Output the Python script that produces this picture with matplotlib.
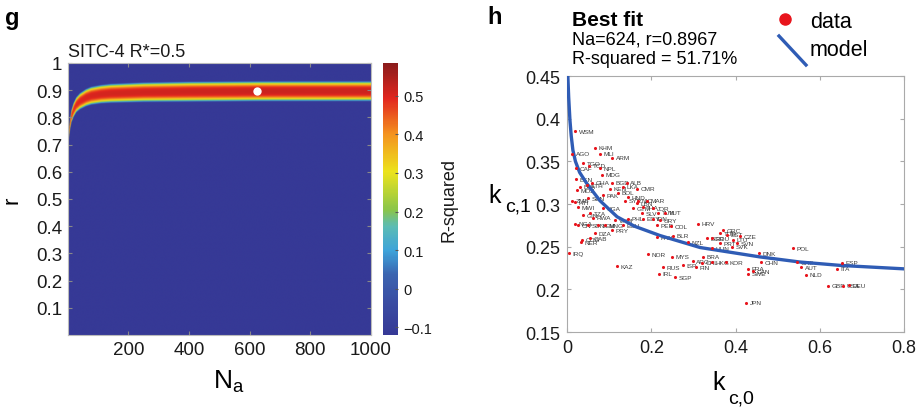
import numpy as np
import matplotlib
matplotlib.use("Agg")
import matplotlib.pyplot as plt
from matplotlib.colors import LinearSegmentedColormap
from matplotlib.lines import Line2D
from matplotlib.ticker import FuncFormatter

plt.rcParams['font.family'] = ['Liberation Sans', 'DejaVu Sans']
plt.rcParams['mathtext.fontset'] = 'custom'
plt.rcParams['mathtext.rm'] = 'Liberation Sans'
plt.rcParams['mathtext.it'] = 'Liberation Sans:italic'
plt.rcParams['mathtext.bf'] = 'Liberation Sans:bold'

# ---------------- panel g: R-squared landscape ----------------
na_ridge = [1, 3, 5, 8, 12, 19, 28, 40, 60, 77, 110, 142, 250, 400, 624, 1000]
r_ridge = [0.705, 0.735, 0.755, 0.78, 0.805, 0.828, 0.847, 0.86, 0.873, 0.88,
           0.886, 0.889, 0.893, 0.895, 0.8967, 0.897]
hw_ridge = [0.012, 0.016, 0.019, 0.022, 0.025, 0.028, 0.030, 0.032, 0.034, 0.035,
            0.036, 0.037, 0.038, 0.039, 0.039, 0.039]
pk_ridge = [0.35, 0.40, 0.43, 0.45, 0.47, 0.48, 0.49, 0.495, 0.50, 0.503,
            0.506, 0.508, 0.511, 0.514, 0.517, 0.515]
r2_min, r2_max = -0.12, 0.585
best_na, best_r = 624, 0.8967

g_xticks = [200, 400, 600, 800, 1000]
g_yticks = [0.1, 0.2, 0.3, 0.4, 0.5, 0.6, 0.7, 0.8, 0.9, 1.0]
cb_ticks = [-0.1, 0, 0.1, 0.2, 0.3, 0.4, 0.5]

# ---------------- panel h: best fit ----------------
codes = ["WSM", "AGO", "KHM", "MLI", "TGO", "TCD", "CAF", "ARM", "NPL", "MDG",
         "BEN", "GHA", "BGD", "ALB", "MOZ", "ETH", "KEN", "LKA", "CMR", "HTI",
         "SEN", "PAK", "BOL", "HND", "NIC", "MAR", "MWI", "TZA", "UGA", "GTM",
         "SLV", "JOR", "TUN", "VUT", "ZMB", "BFA", "GIN", "RWA", "VNM", "PHL",
         "EGY", "IDN", "NGA", "CIV", "SDN", "YEM", "MNG", "ECU", "PRY", "DZA",
         "GAB", "COG", "NER", "IRQ", "KAZ", "NOR", "MYS", "RUS", "IRL", "SGP",
         "ISR", "ARG", "FIN", "CHL", "BRA", "HKG", "KOR", "JPN", "HRV", "COL",
         "PER", "URY", "PAN", "BLR", "NZL", "BGR", "ROU", "TUR", "GRC", "CZE",
         "SVN", "PRT", "HUN", "DNK", "CHN", "FRA", "SWE", "CAN", "POL", "CHE",
         "AUT", "NLD", "ESP", "ITA", "GBR", "USA", "DEU", "LBN", "SYR", "THA",
         "EST", "LTU", "SVK"]
kc0 = [0.019, 0.012, 0.066, 0.078, 0.038, 0.052, 0.021, 0.107, 0.078, 0.083,
       0.021, 0.059, 0.107, 0.142, 0.024, 0.047, 0.102, 0.133, 0.166, 0.019,
       0.050, 0.085, 0.121, 0.145, 0.169, 0.190, 0.026, 0.055, 0.085, 0.157,
       0.178, 0.204, 0.216, 0.233, 0.012, 0.031, 0.038, 0.062, 0.114, 0.145,
       0.180, 0.204, 0.019, 0.026, 0.050, 0.074, 0.090, 0.133, 0.107, 0.066,
       0.055, 0.036, 0.033, 0.005, 0.119, 0.192, 0.249, 0.228, 0.218, 0.256,
       0.275, 0.299, 0.306, 0.320, 0.323, 0.344, 0.377, 0.425, 0.311, 0.247,
       0.214, 0.221, 0.214, 0.252, 0.287, 0.332, 0.344, 0.363, 0.370, 0.411,
       0.404, 0.363, 0.344, 0.456, 0.461, 0.430, 0.430, 0.442, 0.537, 0.546,
       0.556, 0.567, 0.653, 0.641, 0.620, 0.655, 0.669, 0.166, 0.138, 0.180,
       0.380, 0.395, 0.392]
kc1 = [0.385, 0.359, 0.366, 0.359, 0.348, 0.345, 0.342, 0.354, 0.342, 0.334,
       0.329, 0.325, 0.325, 0.325, 0.316, 0.322, 0.318, 0.320, 0.318, 0.302,
       0.307, 0.310, 0.313, 0.308, 0.304, 0.304, 0.296, 0.289, 0.295, 0.295,
       0.289, 0.295, 0.290, 0.290, 0.304, 0.320, 0.287, 0.284, 0.281, 0.283,
       0.283, 0.283, 0.277, 0.275, 0.275, 0.275, 0.275, 0.275, 0.269, 0.266,
       0.260, 0.258, 0.255, 0.242, 0.227, 0.241, 0.238, 0.226, 0.218, 0.214,
       0.228, 0.233, 0.226, 0.231, 0.238, 0.232, 0.232, 0.184, 0.277, 0.274,
       0.275, 0.281, 0.261, 0.263, 0.255, 0.260, 0.260, 0.266, 0.269, 0.262,
       0.254, 0.254, 0.248, 0.242, 0.232, 0.224, 0.218, 0.221, 0.248, 0.232,
       0.226, 0.217, 0.231, 0.224, 0.204, 0.204, 0.205, 0.301, 0.304, 0.296,
       0.264, 0.258, 0.250]
model_kc0 = [0.002, 0.004, 0.007, 0.010, 0.014, 0.020, 0.030, 0.047, 0.078, 0.119,
             0.160, 0.221, 0.316, 0.458, 0.553, 0.650, 0.800]
model_kc1 = [0.45, 0.425, 0.398, 0.380, 0.363, 0.350, 0.337, 0.324, 0.304, 0.285,
             0.274, 0.263, 0.249, 0.238, 0.232, 0.228, 0.224]
h_xticks = [0, 0.2, 0.4, 0.6, 0.8]
h_yticks = [0.15, 0.2, 0.25, 0.3, 0.35, 0.4, 0.45]

W, H = 921, 410
fig = plt.figure(figsize=(W / 100, H / 100), dpi=100)


def box(x0, y0, x1, y1):
    return [x0 / W, 1 - y1 / H, (x1 - x0) / W, (y1 - y0) / H]


cmap = LinearSegmentedColormap.from_list("pjet", [
    (0.00, "#363996"), (0.12, "#3a4da3"), (0.22, "#3b64b0"), (0.31, "#3ea4da"),
    (0.40, "#5cbcb4"), (0.46, "#8ac54a"), (0.60, "#ece31d"), (0.74, "#f4921f"),
    (0.87, "#e2261f"), (1.00, "#8a1c1c")])

# grid for the landscape
na_grid = np.linspace(1, 1000, 1000)
r_grid = np.linspace(0, 1, 900)
rc = np.interp(na_grid, na_ridge, r_ridge)
hw = np.interp(na_grid, na_ridge, hw_ridge)
pk = np.interp(na_grid, na_ridge, pk_ridge)
d = np.abs(r_grid[:, None] - rc[None, :]) / hw[None, :]
Z = pk[None, :] - (pk[None, :] - r2_min) * d ** 3
Z = np.clip(Z, r2_min, None)

axg = fig.add_axes(box(68, 64, 371, 336))
im = axg.imshow(Z, origin="lower", extent=[1, 1000, 0, 1], aspect="auto",
                cmap=cmap, vmin=r2_min, vmax=r2_max, interpolation="bilinear")
axg.plot([best_na], [best_r], "o", color="white", markersize=6, markeredgewidth=0)
axg.set_xlim(1, 1000)
axg.set_ylim(0, 1)
axg.set_xticks(g_xticks)
axg.set_yticks(g_yticks)
axg.xaxis.set_major_formatter(FuncFormatter(lambda v, p: "%g" % v))
axg.yaxis.set_major_formatter(FuncFormatter(lambda v, p: "%g" % v))
axg.tick_params(direction="in", length=3, color="#888888", labelsize=13.5,
                top=True, right=True, labelcolor="#1a1a1a", pad=4)
for s in axg.spines.values():
    s.set_color("#bbbbbb")
    s.set_linewidth(0.8)
axg.text(0.0, 1.012, "SITC-4 R*=0.5", transform=axg.transAxes, fontsize=13,
         ha="left", va="bottom", color="#1a1a1a")

cax = fig.add_axes(box(383, 64, 398, 336))
cb = fig.colorbar(im, cax=cax)
cb.set_ticks(cb_ticks)
cb.ax.yaxis.set_major_formatter(FuncFormatter(lambda v, p: ("%g" % v).replace("-", "\u2212")))
cb.ax.tick_params(labelsize=10.5, direction="in", length=2, color="#555555",
                  labelcolor="#1a1a1a", pad=4)
cb.outline.set_visible(False)
cb.set_label("R-squared", fontsize=13, color="#1a1a1a", labelpad=6)

fig.text(5 / W, 1 - 19 / H, "g", fontsize=17, fontweight="bold", ha="left", va="center")
fig.text(12 / W, 1 - 200 / H, "r", fontsize=16, rotation=90, ha="center", va="center")
fig.text(213 / W, 1 - 382 / H, r"$\mathregular{N_a}$", fontsize=19, ha="left", va="center")

# ---------------- panel h ----------------
axh = fig.add_axes(box(567, 77, 904, 333))
axh.plot(model_kc0, model_kc1, color="#2f5cb5", linewidth=2.4, zorder=3)
axh.scatter(kc0, kc1, s=5, color="#e8141c", linewidths=0, zorder=4)
for c, x, y in zip(codes, kc0, kc1):
    axh.annotate(c, (x, y), xytext=(2.5, 0), textcoords="offset points",
                 fontsize=4.6, color="#3a3a3a", ha="left", va="center", zorder=2)
axh.set_xlim(0, 0.8)
axh.set_ylim(0.15, 0.45)
axh.set_xticks(h_xticks)
axh.set_yticks(h_yticks)
axh.xaxis.set_major_formatter(FuncFormatter(lambda v, p: "%g" % v))
axh.yaxis.set_major_formatter(FuncFormatter(lambda v, p: "%g" % v))
axh.tick_params(direction="in", length=3, color="#aaaaaa", labelsize=13,
                top=True, right=True, labelcolor="#1a1a1a", pad=5)
for s in axh.spines.values():
    s.set_color("#aaaaaa")
    s.set_linewidth(0.8)

fig.text(487 / W, 1 - 18 / H, "h", fontsize=17, fontweight="bold", ha="left", va="center")
fig.text(572 / W, 1 - 20 / H, "Best fit", fontsize=15, fontweight="bold", ha="left", va="center")
fig.text(572 / W, 1 - 40 / H, "Na=624, r=0.8967", fontsize=13, ha="left", va="center")
fig.text(572 / W, 1 - 60 / H, "R-squared = 51.71%", fontsize=13, ha="left", va="center")

fig.add_artist(Line2D([785 / W], [1 - 20 / H], marker="o", markersize=8,
                      color="#e8141c", linestyle="none"))
fig.add_artist(Line2D([779 / W, 806 / W], [1 - 37 / H, 1 - 66 / H],
                      color="#2f5cb5", linewidth=2.4))
fig.text(810 / W, 1 - 22 / H, "data", fontsize=15.5, ha="left", va="center")
fig.text(810 / W, 1 - 50 / H, "model", fontsize=15.5, ha="left", va="center")

# axis labels of panel h: large "k" with a smaller "c,1"/"c,0" subscript
fig.text(488 / W, 1 - 203 / H, "k", fontsize=18, ha="left", va="baseline")
fig.text(505 / W, 1 - 212 / H, "c,1", fontsize=14, ha="left", va="baseline")
fig.text(712 / W, 1 - 390 / H, "k", fontsize=18, ha="left", va="baseline")
fig.text(728 / W, 1 - 404 / H, "c,0", fontsize=14, ha="left", va="baseline")

fig.savefig("out.png", dpi=100)
